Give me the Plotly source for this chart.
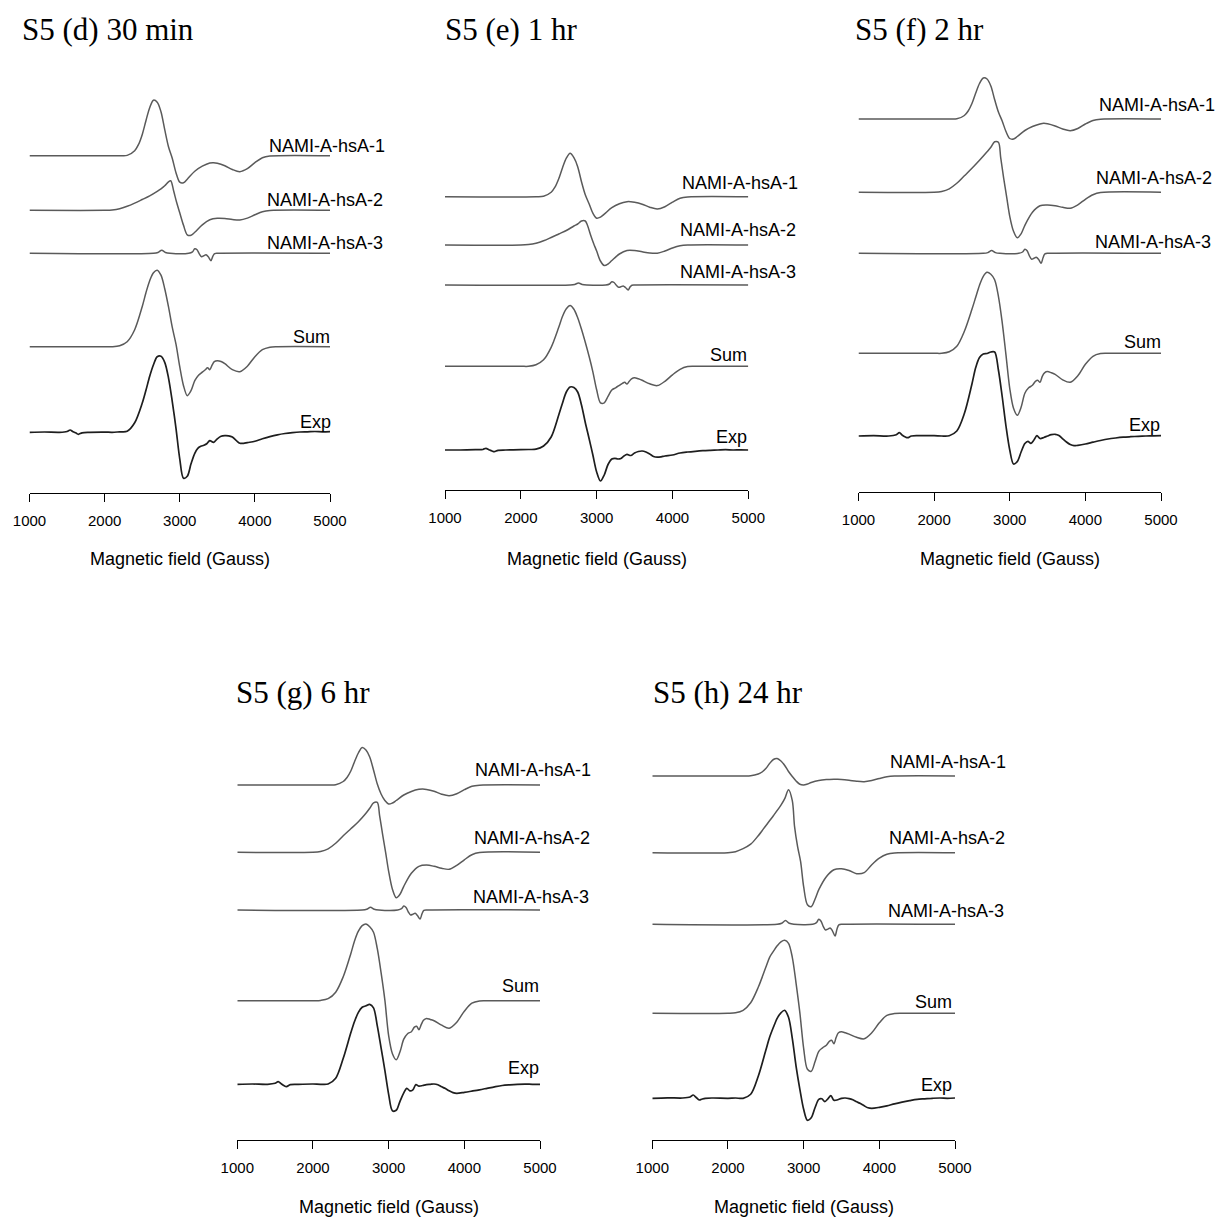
import plotly.graph_objects as go

W, H = 1217, 1218

# ------------------------------------------------------------------ data
FIELD_TICKS = [1000, 2000, 3000, 4000, 5000]
PANEL_TITLES = ["S5 (d) 30 min", "S5 (e) 1 hr", "S5 (f) 2 hr", "S5 (g) 6 hr", "S5 (h) 24 hr"]
CURVE_NAMES = ["NAMI-A-hsA-1", "NAMI-A-hsA-2", "NAMI-A-hsA-3", "Sum", "Exp"]
X_TITLE = "Magnetic field (Gauss)"

# magnetic field grids (Gauss)
GRID_HSA1 = [1000, 2200, 2300, 2400, 2450, 2500, 2550, 2600, 2650, 2700, 2750, 2800, 2850,
             2900, 2950, 3000, 3050, 3100, 3200, 3300, 3400, 3450, 3500, 3600, 3700, 3800,
             3900, 4000, 4100, 4200, 5000]
GRID_HSA2 = [1000, 2000, 2100, 2200, 2300, 2400, 2500, 2600, 2700, 2750, 2800, 2850, 2880,
             2920, 2960, 3000, 3050, 3100, 3150, 3200, 3300, 3400, 3500, 3600, 3700, 3800,
             3900, 4000, 4100, 4200, 5000]
GRID_HSA3 = [1000, 2650, 2710, 2760, 2810, 2870, 3120, 3170, 3200, 3230, 3260, 3290, 3320,
             3350, 3380, 3415, 3440, 3465, 3520, 5000]
GRID_SUM = [1000, 2000, 2100, 2200, 2300, 2400, 2500, 2550, 2600, 2650, 2700, 2750, 2800,
            2850, 2900, 2950, 3000, 3050, 3100, 3150, 3200, 3250, 3300, 3340, 3370, 3400,
            3430, 3460, 3500, 3550, 3600, 3700, 3800, 3900, 4000, 4100, 4200, 4300, 5000]
GRID_EXP = [1000, 1200, 1400, 1500, 1540, 1580, 1620, 1650, 1700, 1800, 2000, 2100, 2200,
            2300, 2400, 2500, 2550, 2600, 2650, 2700, 2750, 2800, 2850, 2900, 2950, 3000,
            3050, 3100, 3150, 3200, 3240, 3280, 3320, 3360, 3400, 3450, 3500, 3550, 3600,
            3650, 3700, 3750, 3800, 3850, 3900, 4000, 4100, 4200, 4300, 4400, 4500, 4600,
            4700, 4800, 4900, 5000]

# ---- (d) 30 min
HSA1_D = [0, 0, 0.3, 5, 11, 21, 35, 48, 55.5, 53.5, 44, 26, 9, -2.5, -17, -26.5, -27, -23.5,
          -15.5, -10.5, -7.3, -7, -7.5, -10, -13.8, -16, -13, -7, -2, -0.3, 0]
HSA2_D = [0, 0, 0.3, 1.5, 4, 7.2, 10.8, 14.5, 19, 21.5, 24.5, 28.5, 29.5, 19, 7.5, -2.5, -15,
          -24.5, -25, -22, -14.5, -9.5, -8, -8.2, -9.2, -9.7, -7.8, -4.5, -1.5, -0.2, 0]
HSA3_D = [0, 0, 0.8, 3, 0.8, 0, 0, 1.5, 4.5, 3.5, -0.5, -3.4, -2.5, -1.5, -3.5, -7.4, -3, -0.3, 0, 0]
SUM_D = [0, 0, 0, 1, 5, 17, 40, 54, 66, 74, 76.5, 71.5, 58, 40, 19.5, 2.5, -20, -39, -49, -44,
         -34, -28.5, -25.5, -23, -21, -23, -18.5, -15, -14, -14.8, -17, -23, -25, -19.5, -10,
         -3, -0.5, 0, 0]
EXP_D = [0, 0.3, 0, 0.8, 2.3, 0.5, -0.8, -2, -0.5, 0, 0.2, 0, 0.5, 1, 9.5, 29, 42, 56, 67.5,
         75.5, 76, 70, 54.5, 31, 4, -26.5, -46, -44, -31.5, -21, -16, -14, -13, -11.5, -8.3,
         -10, -6.5, -4, -3.3, -3.5, -4.8, -8, -11, -11, -10.3, -9, -6.5, -4.3, -2.5, -1.2,
         -0.3, 0.3, 0.5, 0.8, 0.5, 0.7]

# ---- (e) 1 hr
HSA1_E = [0, 0, 0.5, 4.5, 9.5, 18, 29, 38.5, 43.4, 39, 30, 15, 2, -7, -16.5, -21.5, -20.5,
          -17.5, -11, -7, -5, -5, -5.5, -7.5, -10.5, -12.3, -10, -5.5, -1.5, -0.2, 0]
HSA2_E = [0, 0, 0.5, 1.8, 4.2, 7.5, 11, 14.5, 19, 21, 24, 24, 19.5, 10, 1.5, -6, -16, -20.5,
          -19, -15.5, -9, -5.5, -5.5, -6.8, -8, -8.2, -6, -3, -0.8, 0, 0]
HSA3_E = [0, 0, 0.5, 2, 0.5, 0, 0, 1, 3.3, 2.5, -0.3, -2.3, -1.8, -1, -2.5, -5, -2, -0.2, 0, 0]
SUM_E = [0, 0, 0, 1.5, 6.5, 19, 39, 50, 57.5, 60.7, 57, 48.5, 37, 24, 10, -5.5, -23.5, -36.5,
         -36.5, -30, -23.7, -21.5, -19, -17, -16, -17.8, -15, -12.5, -11.4, -12.5, -14, -17.5,
         -19.3, -15, -8.5, -3, -0.3, 0, 0]
EXP_E = [0, 0, 0.3, 0.5, 1.7, 0.3, -1, -1.7, -0.3, 0, 0.3, 0.5, 0.8, 4, 13, 35, 47, 58, 63,
         62.5, 58, 45, 27.5, 11.5, -5, -22, -31, -25, -14.5, -9, -8.3, -9, -8.5, -6, -4.3,
         -5.5, -3, -1.5, -1, -2, -4, -6.5, -7.2, -6.8, -6, -5, -3, -2, -1.3, -0.7, -0.3, 0,
         0.3, 0, 0.2, 0]

# ---- (f) 2 hr
HSA1_F = [0, 0, 0.2, 3.5, 8, 15.5, 26, 35.5, 41, 40, 33, 19.5, 7, -2, -12.5, -19.5, -20,
          -17.5, -11.5, -7.5, -5, -4.3, -4.8, -7, -10, -11.7, -9.5, -5, -1.5, -0.2, 0]
HSA2_F = [0, 0, 0.8, 3.5, 9, 16.5, 24, 32, 40.5, 45, 50.5, 50, 35, 14, -5, -24, -39, -45.5,
          -41.5, -33, -20, -13.5, -12.8, -13.5, -15, -16, -12.5, -7, -2.5, -0.3, 0]
HSA3_F = [0, 0, 0.7, 2.7, 0.7, 0, 0, 1.3, 4, 2.5, -2.5, -6, -5, -4, -6, -10, -4.5, -0.5, 0, 0]
SUM_F = [0, 0, 0, 1.5, 7, 22, 44, 56, 68, 77, 81, 79, 73.5, 57, 31, -1.5, -35, -55, -62, -54,
         -40, -34.5, -32, -28, -27, -29, -23, -19.5, -18.3, -19.5, -21, -26.5, -29, -22.5,
         -11, -3, -0.3, 0, 0]
EXP_F = [0, 0.3, 0, 1.3, 3.3, 0.7, -1, -1.7, 0, 0.3, 0.3, 0, 0.3, 5, 22.5, 52, 68.5, 78.5,
         82, 82.5, 84, 84, 66, 39.5, 10, -14, -28, -25.5, -16, -7.5, -5.3, -7.3, -4, 0.3,
         -2.5, -1.5, 0, 1.3, 1.7, 0.5, -2.8, -6, -8.5, -9.7, -9.3, -8, -6.2, -4.5, -3, -2,
         -1.2, -0.7, -0.3, 0, 0.2, 0.3]

# ---- (g) 6 hr
HSA1_G = [0, 0, 0.3, 3.5, 7.5, 14, 23.5, 32, 37.5, 35, 28, 15, 1, -9, -15.5, -19, -18,
          -15.5, -10, -6.5, -4.3, -4, -4.4, -6.3, -9.2, -10.7, -8.7, -4.7, -1.3, -0.2, 0]
HSA2_G = [0, 0, 0.8, 3.5, 9, 16.5, 23.5, 30.5, 39, 44, 49.5, 50, 37, 18, 0, -19, -37, -45.5,
          -42, -34, -21, -14, -12.8, -14, -16, -17, -13, -7.5, -2.5, -0.3, 0]
HSA3_G = [0, 0, 0.7, 2.7, 0.7, 0, 0, 1.3, 4, 2.5, -2, -5, -4.2, -3.3, -5.5, -9, -4, -0.4, 0, 0]
SUM_G = [0, 0, 0.3, 2, 8.5, 24, 47, 60, 69.5, 75, 76.7, 74, 68.5, 52, 28, 0.5, -35, -53, -59,
         -51, -38.5, -33, -31, -26.5, -25.5, -29, -24, -19.5, -17.7, -18.8, -20, -24.5,
         -27.5, -21.5, -10.5, -2.5, -0.2, 0, 0]
EXP_G = [0, 0.3, 0, 1, 2.7, 0.5, -1.5, -2.3, -0.3, 0, 0.3, 0, 0.3, 6, 26, 51.5, 63, 72, 77,
         78.5, 80, 76.5, 58.5, 36.5, 14, -10, -26.5, -26, -17, -8.5, -4, -6.5, -5.5, -0.3,
         -1.8, -1.2, -0.3, 0, 0.3, -0.5, -2.5, -4.3, -6.5, -8.3, -9, -8, -6.8, -5.5, -4,
         -2.5, -1.2, -0.5, 0, 0.2, 0, 0]

# ---- (h) 24 hr
HSA1_H = [0, 0, 0.2, 2, 4, 7.5, 12.5, 16.5, 17.5, 15, 10.5, 4.5, -0.5, -5, -8.3, -9, -8,
          -6.5, -4.5, -3.6, -3.3, -3.3, -3.5, -4.3, -5.3, -5.7, -4.5, -2.5, -0.8, -0.1, 0]
HSA2_H = [0, 0, 1, 4, 8.5, 17, 27, 37, 47.5, 54, 63, 52, 26, 6, -9, -34, -52, -54, -46.5,
          -37, -24, -17, -16, -17.8, -21, -20, -12, -5.5, -1.5, -0.2, 0]
HSA3_H = [0, 0, 1, 3.7, 1, 0, 0, 1.7, 5, 3, -2.3, -5.7, -4.8, -3.7, -6.5, -11.7, -5, -0.5, 0, 0]
SUM_H = [0, 0, 0.5, 3, 10.5, 26, 46, 56, 62, 67.5, 71.5, 73, 70, 56, 30, 0.5, -35, -56, -58,
         -48.5, -38, -34.5, -32, -28, -27, -30.5, -24, -19.5, -18.5, -19.5, -20.8, -24,
         -25.5, -19.5, -9.5, -2, -0.3, 0, 0]
EXP_H = [0, 0.5, 0.3, 1.3, 3.3, 0.8, -1.7, -1, 0, 0.3, 0, 0.3, 0, 4, 22, 48, 61, 71, 80,
         85.5, 88, 81, 60, 32, 9, -11, -22, -19.5, -9.5, -1, -0.5, -3.3, -0.5, 2.7, -2,
         -1.5, 0, 0.3, -0.3, -1.5, -3.5, -5.3, -7.5, -9.5, -10, -9, -7.5, -5.5, -3.8, -2.3,
         -1, -0.5, 0, 0.3, 0, 0.3]

# ------------------------------------------------------------------ layout (page pixels)
PANELS = [
    dict(x0=29.5, x1=330.0, axis=493, top=60,
         base=[155.7, 210.3, 253.3, 346.7, 432.3],
         lab_x=[266.5, 265.0, 264.5, 332.0, 333.0],
         lab_y=[146.0, 200.0, 243.3, 336.7, 421.7],
         title=(20, 29), xtitle_y=559),
    dict(x0=445.0, x1=748.3, axis=490, top=60,
         base=[196.7, 245.0, 285.0, 366.3, 450.0],
         lab_x=[680.0, 678.3, 677.7, 748.5, 748.5],
         lab_y=[183.3, 230.0, 271.7, 355.0, 436.7],
         title=(443, 29), xtitle_y=559),
    dict(x0=858.5, x1=1161.0, axis=492, top=60,
         base=[119.0, 192.3, 253.3, 353.3, 436.0],
         lab_x=[1096.7, 1094.3, 1093.3, 1163.0, 1162.0],
         lab_y=[105.0, 178.3, 241.7, 341.7, 425.0],
         title=(853, 29), xtitle_y=559),
    dict(x0=237.3, x1=540.0, axis=1140, top=720,
         base=[785.0, 852.3, 910.0, 1000.7, 1084.3],
         lab_x=[473.3, 471.7, 471.0, 540.5, 541.0],
         lab_y=[770.0, 838.3, 896.7, 986.0, 1068.3],
         title=(234, 692), xtitle_y=1207),
    dict(x0=652.3, x1=955.0, axis=1140, top=720,
         base=[776.0, 852.7, 924.3, 1013.3, 1098.3],
         lab_x=[888.3, 886.7, 886.0, 953.5, 953.5],
         lab_y=[761.7, 838.3, 910.7, 1002.3, 1085.0],
         title=(651, 692), xtitle_y=1207),
]

SERIES = [
    [(GRID_HSA1, HSA1_D), (GRID_HSA2, HSA2_D), (GRID_HSA3, HSA3_D), (GRID_SUM, SUM_D), (GRID_EXP, EXP_D)],
    [(GRID_HSA1, HSA1_E), (GRID_HSA2, HSA2_E), (GRID_HSA3, HSA3_E), (GRID_SUM, SUM_E), (GRID_EXP, EXP_E)],
    [(GRID_HSA1, HSA1_F), (GRID_HSA2, HSA2_F), (GRID_HSA3, HSA3_F), (GRID_SUM, SUM_F), (GRID_EXP, EXP_F)],
    [(GRID_HSA1, HSA1_G), (GRID_HSA2, HSA2_G), (GRID_HSA3, HSA3_G), (GRID_SUM, SUM_G), (GRID_EXP, EXP_G)],
    [(GRID_HSA1, HSA1_H), (GRID_HSA2, HSA2_H), (GRID_HSA3, HSA3_H), (GRID_SUM, SUM_H), (GRID_EXP, EXP_H)],
]

SANS = "Liberation Sans, Arial, sans-serif"
SERIF = "Liberation Serif, Times New Roman, serif"
SIM_COLOR = "#5a5a5a"
EXP_COLOR = "#1e1e1e"


def px_x(p):
    return p / W


def px_y(p):
    return 1 - p / H


fig = go.Figure()
annotations = []

for i, (p, series) in enumerate(zip(PANELS, SERIES)):
    n = i + 1
    xref = "x" if n == 1 else f"x{n}"
    yref = "y" if n == 1 else f"y{n}"
    span = p["axis"] - p["top"]
    for k, (grid, vals) in enumerate(series):
        off = p["axis"] - p["base"][k]
        is_exp = k == 4
        fig.add_trace(go.Scatter(
            x=grid, y=[v + off for v in vals], mode="lines",
            line=dict(color=EXP_COLOR if is_exp else SIM_COLOR,
                      width=1.7 if is_exp else 1.5,
                      shape="spline", smoothing=0.9),
            xaxis=xref, yaxis=yref, showlegend=False, hoverinfo="skip"))

    suffix = "" if n == 1 else str(n)
    fig.layout["xaxis" + suffix] = dict(
        domain=[px_x(p["x0"]), px_x(p["x1"])], range=[1000, 5000],
        anchor=yref, showline=True, linecolor="black", linewidth=1,
        ticks="outside", ticklen=8, tickcolor="black", tickwidth=1,
        tickvals=FIELD_TICKS, ticktext=[str(t) for t in FIELD_TICKS],
        tickfont=dict(family=SANS, size=15, color="black"),
        ticklabelstandoff=6,
        showgrid=False, zeroline=False, fixedrange=True, automargin=False)
    fig.layout["yaxis" + suffix] = dict(
        domain=[px_y(p["axis"]), px_y(p["top"])], range=[0, span],
        anchor=xref, visible=False, showgrid=False, zeroline=False,
        fixedrange=True, automargin=False)

    # curve labels
    for k, name in enumerate(CURVE_NAMES):
        annotations.append(dict(
            text=name, xref="paper", yref="paper",
            x=px_x(p["lab_x"][k]), y=px_y(p["lab_y"][k]),
            xanchor="left" if k < 3 else "right", yanchor="middle",
            showarrow=False, font=dict(family=SANS, size=18, color="black")))
    # panel title
    tx, ty = p["title"]
    annotations.append(dict(
        text=PANEL_TITLES[i], xref="paper", yref="paper",
        x=px_x(tx), y=px_y(ty), xanchor="left", yanchor="middle",
        showarrow=False, font=dict(family=SERIF, size=31, color="black")))
    # x-axis title
    annotations.append(dict(
        text=X_TITLE, xref="paper", yref="paper",
        x=px_x((p["x0"] + p["x1"]) / 2), y=px_y(p["xtitle_y"]),
        xanchor="center", yanchor="middle",
        showarrow=False, font=dict(family=SANS, size=18, color="black")))

fig.update_layout(
    template="none",
    width=W, height=H, margin=dict(l=0, r=0, t=0, b=0, pad=0, autoexpand=False),
    paper_bgcolor="white", plot_bgcolor="white",
    annotations=annotations, showlegend=False)

fig.write_html(
    "out.html",
    config={"displayModeBar": False},
    post_script="document.body.style.margin='0';document.body.style.overflow='hidden';"
                "document.documentElement.style.overflow='hidden';")
